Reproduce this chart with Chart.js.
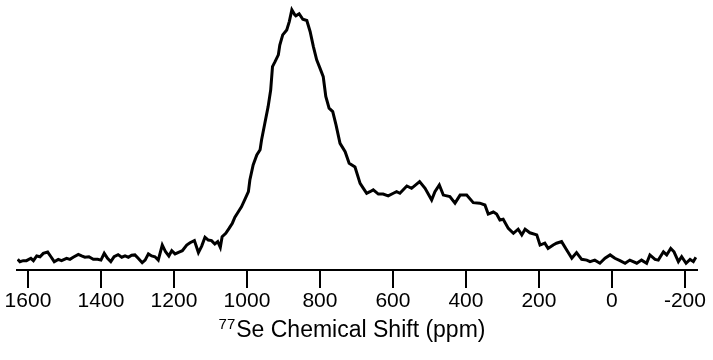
<!DOCTYPE html>
<html>
<head>
<meta charset="utf-8">
<script src="https://cdn.jsdelivr.net/npm/chart.js@4.4.1/dist/chart.umd.min.js"></script>
<style>
    html, body { margin: 0; padding: 0; background: #fff; }
    #wrap { width: 713px; height: 360px; position: relative; }
</style>
</head>
<body>
<div id="wrap"><canvas id="nmr-chart" width="713" height="360"></canvas></div>
<script>
// 77Se spectrum (ppm, arbitrary intensity)
var shiftPpm = [
    1628, 1622, 1613, 1604, 1592, 1585, 1576, 1567, 1558, 1546, 1537, 1528, 1517, 1508, 1494, 1485,
    1476, 1462, 1453, 1444, 1433, 1421, 1409, 1400, 1391, 1382, 1373, 1364, 1353, 1343, 1334, 1325,
    1316, 1307, 1298, 1287, 1279, 1270, 1261, 1252, 1243, 1232, 1223, 1214, 1206, 1197, 1186, 1177,
    1165, 1156, 1144, 1133, 1124, 1115, 1106, 1097, 1088, 1080, 1073, 1068, 1058, 1049, 1040, 1033,
    1024, 1015, 1005, 996, 992, 983, 973, 964, 960, 951, 942, 935, 930, 923, 914, 910,
    902, 891, 884, 877, 869, 866, 857, 847, 836, 827, 818, 809, 800, 791, 784, 775,
    765, 756, 745, 731, 720, 704, 690, 681, 672, 663, 654, 640, 627, 613, 599, 590,
    581, 562, 549, 527, 512, 494, 485, 473, 462, 444, 430, 416, 398, 380, 362, 348,
    339, 325, 316, 307, 298, 284, 270, 257, 247, 238, 225, 206, 197, 184, 175, 161,
    152, 138, 124, 110, 97, 83, 69, 60, 47, 33, 19, 5, -8, -22, -36, -49,
    -68, -81, -95, -104, -118, -127, -141, -150, -161, -170, -182, -191, -203, -214, -223, -230
];
var intensity = [
    4.1, 3.2, 3.6, 3.6, 4.5, 3.6, 5.4, 5.1, 6.4, 6.9, 5.1, 3.2, 4.1, 3.6, 4.5, 4.1,
    4.9, 6.0, 5.4, 4.9, 5.1, 4.1, 4.1, 3.8, 6.4, 4.5, 3.2, 5.1, 5.9, 4.9, 5.4, 4.9,
    5.7, 5.8, 4.5, 2.8, 3.8, 6.2, 5.4, 5.1, 3.8, 9.6, 7.0, 5.4, 7.4, 6.2, 6.9, 7.4,
    9.6, 10.5, 11.3, 6.7, 9.2, 12.6, 11.5, 11.3, 10.0, 10.9, 8.7, 12.8, 14.1, 16.0, 18.0, 20.3,
    22.3, 24.3, 27.3, 30.1, 34.6, 40.4, 44.2, 46.2, 50.0, 56.4, 62.8, 69.2, 78.2, 80.1, 82.7, 86.5,
    90.4, 92.3, 95.5, 100.0, 98.1, 97.7, 98.5, 96.4, 95.9, 91.7, 85.9, 80.8, 77.6, 74.3, 66.7, 62.2,
    60.9, 55.8, 48.7, 45.5, 41.0, 39.6, 33.3, 31.4, 29.5, 30.1, 30.8, 29.2, 29.2, 28.5, 29.5, 30.1,
    29.5, 32.3, 31.4, 34.0, 31.4, 26.9, 30.1, 32.7, 28.8, 28.2, 25.7, 28.8, 28.8, 25.9, 25.7, 25.0,
    21.5, 22.3, 21.5, 19.2, 19.5, 16.0, 14.1, 15.7, 13.5, 15.7, 14.3, 13.5, 9.6, 10.3, 8.3, 9.6,
    10.3, 10.9, 7.7, 4.5, 6.7, 4.1, 3.8, 3.2, 3.8, 2.6, 4.5, 5.8, 4.5, 3.6, 2.6, 3.8,
    2.6, 3.8, 2.6, 5.8, 4.1, 3.8, 7.0, 5.8, 8.3, 7.0, 3.2, 5.1, 2.6, 4.1, 3.2, 4.9
];
var tickValues = [1600, 1400, 1200, 1000, 800, 600, 400, 200, 0, -200];
var axisTitleSup = '77';
var axisTitleMain = 'Se Chemical Shift (ppm)';

var fontFamily = '"Liberation Sans", Arial, Helvetica, sans-serif';

var points = shiftPpm.map(function(v, i) {
    return { x: v, y: intensity[i] };
});

// x-axis title with a superscript mass number
var axisTitlePlugin = {
    id: 'axisTitle',
    afterDraw: function(chart) {
        const ctx = chart.ctx;
        ctx.save();
        ctx.fillStyle = '#000';
        ctx.textBaseline = 'alphabetic';
        ctx.textAlign = 'left';

        ctx.font = '15px ' + fontFamily;
        const supWidth = ctx.measureText(axisTitleSup).width;
        ctx.font = '23px ' + fontFamily;
        const mainWidth = ctx.measureText(axisTitleMain).width;

        const center = 352;
        const baseline = 337;
        let x = center - (supWidth + 1 + mainWidth) / 2;

        ctx.font = '15px ' + fontFamily;
        ctx.fillText(axisTitleSup, x, baseline - 8);
        x += supWidth + 1;
        ctx.font = '23px ' + fontFamily;
        ctx.fillText(axisTitleMain, x, baseline);
        ctx.restore();
    }
};

const ctx = document.getElementById('nmr-chart').getContext('2d');
const nmrChart = new Chart(ctx, {
    type: 'line',
    data: {
        datasets: [{
            label: '77Se',
            data: points,
            borderColor: '#000',
            borderWidth: 3,
            pointRadius: 0,
            tension: 0,
            fill: false
        }]
    },
    options: {
        responsive: false,
        animation: false,
        events: [],
        layout: {
            padding: { left: 17, right: 16, top: 0, bottom: 0 }
        },
        plugins: {
            legend: { display: false },
            tooltip: { enabled: false },
            title: { display: false }
        },
        scales: {
            x: {
                type: 'linear',
                reverse: true,
                min: -233,
                max: 1630,
                afterFit: function(scale) {
                    scale.height = 90;
                },
                afterBuildTicks: function(scale) {
                    scale.ticks = tickValues.map(function(v) { return { value: v }; });
                },
                border: {
                    display: true,
                    color: '#000',
                    width: 2
                },
                grid: {
                    drawOnChartArea: false,
                    drawTicks: true,
                    tickLength: 18,
                    color: '#000',
                    lineWidth: 2
                },
                ticks: {
                    autoSkip: false,
                    maxRotation: 0,
                    padding: 1,
                    color: '#000',
                    font: { family: fontFamily, size: 21 },
                    callback: function(value) {
                        return String(value);
                    }
                }
            },
            y: {
                display: false,
                min: 0,
                max: 103.8
            }
        }
    },
    plugins: [axisTitlePlugin]
});
</script>
</body>
</html>
